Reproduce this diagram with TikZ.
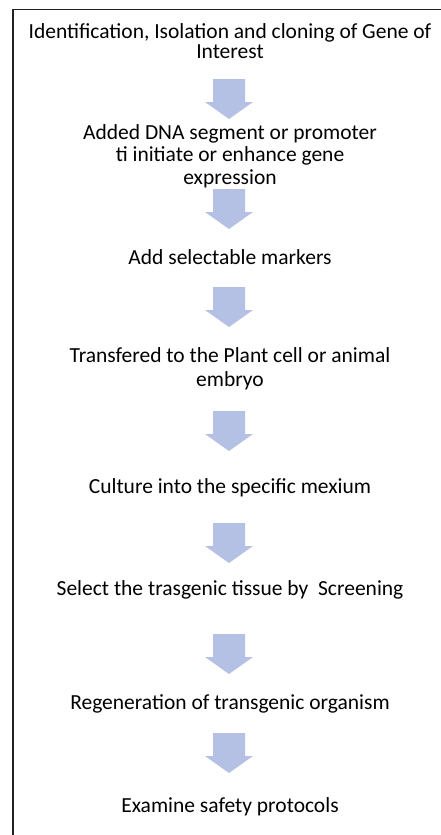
\documentclass[tikz,border=0pt]{standalone}
\usepackage{fontspec}
\setmainfont{Carlito}
\definecolor{arrowfill}{HTML}{B4C1E4}
\definecolor{framecol}{HTML}{222222}
\tikzset{
  steptext/.style={anchor=base, align=center, inner sep=0pt, text=black,
    font=\fontsize{21.5}{22}\selectfont},
  pics/downarrow/.style={code={
    \fill[arrowfill] (-16,0) -- (16,0) -- (16,23) -- (24,23) -- (0,40) -- (-24,23) -- (-16,23) -- cycle;
  }}
}
\begin{document}
\begin{tikzpicture}[x=1pt,y=-1pt]
\useasboundingbox (0,0) rectangle (441,835);
\draw[framecol, line width=1.6pt] (12.7,835) -- (12.7,9.3) -- (441,9.3);
\node[steptext, font=\fontsize{21.5}{20}\selectfont] (s1) at (230,58) {Identification, Isolation and cloning of Gene of\\Interest};
\node[steptext, font=\fontsize{21.5}{22.5}\selectfont] (s2) at (230,184) {Added DNA segment or promoter\\ti initiate or enhance gene\\expression};
\node[steptext] (s3) at (230,264) {Add selectable markers};
\node[steptext, font=\fontsize{21.5}{24}\selectfont] (s4) at (230,386) {Transfered to the Plant cell or animal\\embryo};
\node[steptext] (s5) at (230,493) {Culture into the specific mexium};
\node[steptext] (s6) at (230,595) {Select the trasgenic tissue by\ \ Screening};
\node[steptext] (s7) at (230,709) {Regeneration of transgenic organism};
\node[steptext] (s8) at (230,812) {Examine safety protocols};
\coordinate (a1) at (229,79);
\coordinate (a2) at (229,189);
\coordinate (a3) at (229,287);
\coordinate (a4) at (229,411);
\coordinate (a5) at (229,523);
\coordinate (a6) at (229,634);
\coordinate (a7) at (229,733);
\foreach \a in {a1,a2,a3,a4,a5,a6,a7} { \pic at (\a) {downarrow}; }
\end{tikzpicture}
\end{document}
